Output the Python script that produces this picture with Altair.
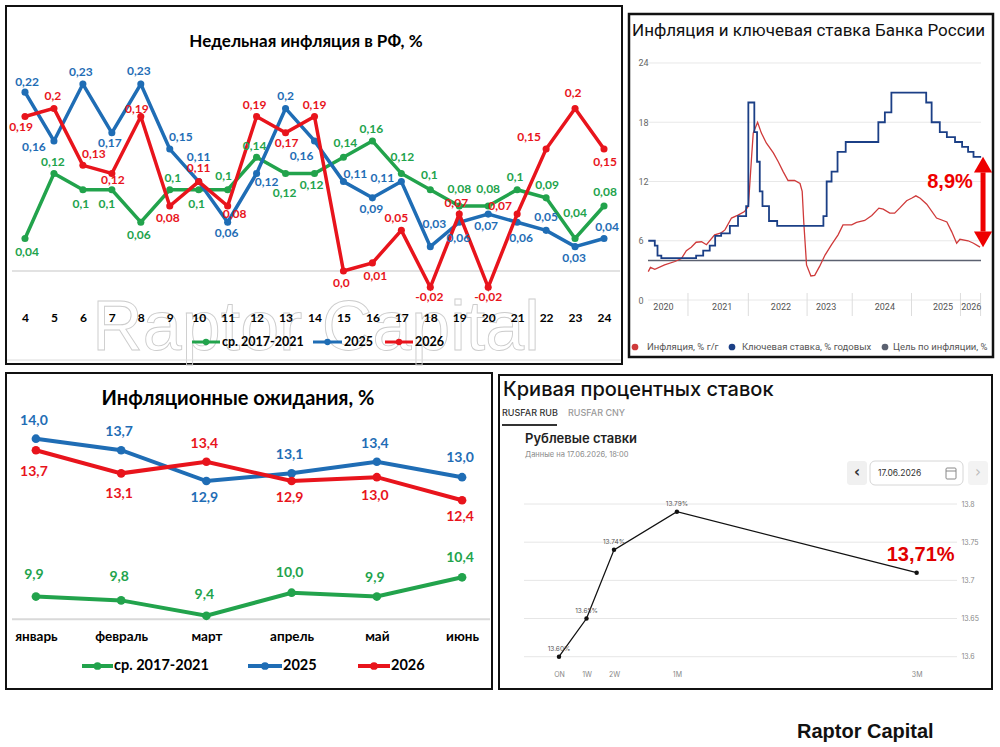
import altair as alt
import pandas as pd

# ---------------- data ----------------
SERIES = ["ср. 2017-2021", "2025", "2026"]

# weekly inflation, weeks 4..24
WEEKS = list(range(4, 25))
WEEK_AVG = [0.04, 0.12, 0.10, 0.10, 0.06, 0.10, 0.10, 0.10, 0.14, 0.12, 0.12,
            0.14, 0.16, 0.12, 0.10, 0.08, 0.08, 0.10, 0.09, 0.04, 0.08]
WEEK_2025 = [0.22, 0.16, 0.23, 0.17, 0.23, 0.15, 0.11, 0.06, 0.12, 0.20, 0.16,
             0.11, 0.09, 0.11, 0.03, 0.06, 0.07, 0.06, 0.05, 0.03, 0.04]
WEEK_2026 = [0.19, 0.20, 0.13, 0.12, 0.19, 0.08, 0.11, 0.08, 0.19, 0.17, 0.19,
             0.00, 0.01, 0.05, -0.02, 0.07, -0.02, 0.07, 0.15, 0.20, 0.15]
# label placement (dx, dy) in pixels
WEEK_AVG_LBL = [(2, 14), (-1, -11), (-2, 14), (-5, 14), (-2, 13), (3, -12), (-2, 14),
                (-4, -14), (-2, -11), (-1, 20), (-3, 12), (2, -14), (-1, -12), (1, -16),
                (-1, -15), (0, -17), (0, -17), (-2, -13), (1, -13), (0, -25), (1, -14)]
WEEK_2025_LBL = [(2, -10), (-20, 6), (-2, -12), (-2, 10), (-2, -13), (11, -12), (0, -25),
                 (-1, 11), (10, 9), (0, -12), (-13, 15), (12, -8), (-1, 11), (-19, -4),
                 (4, -23), (-1, 16), (-2, 12), (4, 16), (0, -13), (-1, 11), (3, -11)]
WEEK_2026_LBL = [(-4, 10), (-1, -12), (11, -11), (1, 7), (-4, -8), (-2, 12), (0, -14),
                 (7, 8), (-2, -12), (1, 10), (0, -12), (-2, 12), (3, 13), (-5, -12),
                 (-1, 10), (-3, -11), (0, 10), (-17, -8), (-17, -12), (-2, -15), (1, 13)]

# inflation expectations
MONTHS = ["январь", "февраль", "март", "апрель", "май", "июнь"]
EXP_AVG = [9.9, 9.8, 9.4, 10.0, 9.9, 10.4]
EXP_2025 = [14.0, 13.7, 12.9, 13.1, 13.4, 13.0]
EXP_2026 = [13.7, 13.1, 13.4, 12.9, 13.0, 12.4]
EXP_AVG_LBL = [-22, -23, -21, -20, -19, -19]
EXP_2025_LBL = [-18, -18, 17, -18, -18, -19]
EXP_2026_LBL = [22, 21, -18, 17, 19, 17]

# inflation and key rate (decimal years)
INFL_T = [2020.33, 2020.37, 2020.45, 2020.63, 2020.82, 2020.94, 2021.03, 2021.12, 2021.21,
          2021.31, 2021.40, 2021.55, 2021.67, 2021.74, 2021.86, 2021.98, 2022.10, 2022.17,
          2022.23, 2022.26, 2022.34, 2022.41, 2022.50, 2022.63, 2022.72, 2022.81, 2022.90,
          2023.02, 2023.12, 2023.16, 2023.19, 2023.24, 2023.32, 2023.39, 2023.48, 2023.58,
          2023.70, 2023.82, 2023.91, 2024.07, 2024.16, 2024.31, 2024.44, 2024.57, 2024.65,
          2024.77, 2024.86, 2024.96, 2025.08, 2025.17, 2025.25, 2025.33, 2025.45, 2025.63,
          2025.82, 2025.91, 2026.00, 2026.06, 2026.21, 2026.31, 2026.43]
INFL_V = [2.87, 3.3, 3.1, 3.55, 3.9, 4.2, 5.0, 5.35, 5.85, 5.9, 5.6, 6.6, 6.8, 7.1, 8.3, 8.6,
          8.95, 9.5, 14.5, 16.9, 18.0, 16.9, 15.9, 14.9, 14.0, 13.0, 12.1, 12.1, 11.8, 11.0,
          7.8, 3.55, 2.43, 2.5, 3.4, 4.55, 5.6, 6.6, 7.6, 7.6, 7.85, 8.05, 8.55, 9.3, 9.2,
          8.8, 8.8, 9.35, 10.05, 10.3, 10.55, 10.3, 9.7, 8.3, 7.9, 6.9, 5.75, 6.15, 6.0,
          5.75, 5.35]
KEY_T = [2020.33, 2020.45, 2020.50, 2020.57, 2021.21, 2021.34, 2021.46, 2021.56, 2021.67,
         2021.83, 2021.98, 2022.13, 2022.17, 2022.28, 2022.33, 2022.38, 2022.43, 2022.55,
         2022.70, 2023.55, 2023.61, 2023.70, 2023.81, 2023.96, 2024.56, 2024.68, 2024.80,
         2025.44, 2025.54, 2025.69, 2025.82, 2025.97, 2026.10, 2026.21, 2026.31, 2026.45]
KEY_V = [6.0, 5.5, 4.5, 4.25, 4.5, 5.0, 5.5, 6.5, 6.75, 7.5, 8.5, 9.5, 20.0, 17.0, 14.0, 11.0,
         9.5, 8.0, 7.5, 8.5, 12.0, 13.0, 15.0, 16.0, 18.0, 19.0, 21.0, 20.0, 18.0, 17.0, 16.5,
         16.0, 15.5, 15.0, 14.5, 14.5]
TARGET = [4.0]
RATE_TICKS = [0, 6, 12, 18, 24]
YEAR_TICKS = [2020.60, 2021.68, 2022.76, 2023.59, 2024.67, 2025.74, 2026.26]
YEAR_SEPS = [2021.06, 2022.17, 2023.25, 2024.08, 2025.17, 2026.07, 2026.44]
GAP_TEXT = "8,9%"
B_LEGEND = ["Инфляция, % г/г", "Ключевая ставка, % годовых", "Цель по инфляции, %"]

# RUSFAR curve
TENORS = ["ON", "1W", "2W", "1M", "3M"]
TENOR_DAYS = [0, 7, 14, 30, 91]
RUSFAR = [13.60, 13.65, 13.74, 13.79, 13.71]
CURVE_TICKS = [13.6, 13.65, 13.7, 13.75, 13.8]

GREEN, BLUE, RED = "#22A34C", "#1F6DB5", "#E8141C"
XL = "Lato"

one = pd.DataFrame({"k": [0]})


def txt(s, x, y, size, color="#000", weight="normal", align="left", font=XL,
        baseline="middle", **kw):
    return alt.Chart(pd.DataFrame({"t": [s]})).mark_text(
        align=align, baseline=baseline, fontSize=size, fontWeight=weight,
        color=color, font=font, **kw).encode(x=alt.value(x), y=alt.value(y), text="t:N")


def rect(x1, y1, x2, y2, fill="white", stroke=None, sw=1, radius=0):
    kw = dict(fill=fill, cornerRadius=radius)
    if stroke:
        kw.update(stroke=stroke, strokeWidth=sw)
    return alt.Chart(one).mark_rect(**kw).encode(
        x=alt.value(x1), x2=alt.value(x2), y=alt.value(y1), y2=alt.value(y2))


def hline(x1, x2, y, color, sw):
    return alt.Chart(one).mark_rule(color=color, strokeWidth=sw).encode(
        x=alt.value(x1), x2=alt.value(x2), y=alt.value(y))


def dot(x, y, color, size):
    return alt.Chart(one).mark_circle(color=color, size=size, opacity=1).encode(
        x=alt.value(x), y=alt.value(y))


def legend_item(x1, x2, y, color, sw, dsize, label, tx, fsize):
    return [hline(x1, x2, y, color, sw), dot((x1 + x2) / 2, y, color, dsize),
            txt(label, tx, y, fsize, "#000", "bold")]


def fmt_week(v):
    s = f"{v:.2f}"
    if s.endswith("0"):
        s = s[:-1]
    return s.replace(".", ",")


# ---------------- panel A: weekly inflation ----------------
AW, AH = 618, 360
A_XDOM = [3.309, 24.656]
A_YDOM = [-0.1156, 0.3272]
A_PXX = AW / (A_XDOM[1] - A_XDOM[0])
A_PXY = AH / (A_YDOM[1] - A_YDOM[0])
xa = alt.Scale(domain=A_XDOM, nice=False, zero=False)
ya = alt.Scale(domain=A_YDOM, nice=False, zero=False)
a_axis = alt.Axis(values=WEEKS, orient="bottom", offset=-53, domain=False, ticks=False,
                  tickSize=0, grid=False, labelPadding=0, labelFont=XL, labelFontSize=12,
                  labelFontWeight="bold", labelColor="#000", labelOverlap=False,
                  title=None, format="d", zindex=1)


def XA(f):
    return alt.X(f, scale=xa, axis=a_axis)


def YA(f):
    return alt.Y(f, scale=ya, axis=None)


a_layers = [
    rect(1, 1, AW - 1, AH - 1, fill="white", stroke="#111", sw=2),
    txt("Raptor Capital", 311, 345, 70, font="Liberation Sans", baseline="alphabetic",
        align="center", fillOpacity=0, stroke="#cccccc", strokeWidth=0.9),
    hline(2, AW - 2, 355, "#dddddd", 1),
    alt.Chart(pd.DataFrame({"v": [0.0]})).mark_rule(color="#d9d9d9", strokeWidth=1.5).encode(
        y=YA("v:Q"), x=alt.value(7), x2=alt.value(615)),
]
a_labels = []
for i, (vals, offs, col) in enumerate(zip([WEEK_AVG, WEEK_2025, WEEK_2026],
                                          [WEEK_AVG_LBL, WEEK_2025_LBL, WEEK_2026_LBL],
                                          [GREEN, BLUE, RED])):
    df = pd.DataFrame({"week": WEEKS, "v": vals})
    df["lx"] = df["week"] + [o[0] / A_PXX for o in offs]
    df["ly"] = df["v"] - pd.Series([o[1] / A_PXY for o in offs])
    df["lab"] = [fmt_week(v) for v in vals]
    a_layers.append(alt.Chart(df).mark_line(color=col, strokeWidth=3.5).encode(
        x=XA("week:Q"), y=YA("v:Q")))
    a_layers.append(alt.Chart(df).mark_circle(color=col, size=50, opacity=1).encode(
        x=XA("week:Q"), y=YA("v:Q")))
    a_labels.append(alt.Chart(df).mark_text(color=col, font=XL, fontWeight="bold",
                                            fontSize=12, baseline="middle").encode(
        x=XA("lx:Q"), y=YA("ly:Q"), text="lab:N"))
a_layers += a_labels
a_layers.append(txt("Недельная инфляция в РФ, %", 301, 37, 17, "#000", "bold", "center"))
a_layers += legend_item(187, 215, 337, GREEN, 3, 40, SERIES[0], 217, 12.5)
a_layers += legend_item(308, 337, 337, BLUE, 3, 40, SERIES[1], 339, 12.5)
a_layers += legend_item(380, 408, 337, RED, 3, 40, SERIES[2], 410, 12.5)
panel_a = alt.layer(*a_layers).properties(width=AW, height=AH)

# ---------------- panel B: inflation & key rate ----------------
BW, BH = 368, 360
RB = "Roboto"
B_XDOM = [2019.939, 2026.705]
B_YDOM = [-6.58, 29.87]
xb = alt.Scale(domain=B_XDOM, nice=False, zero=False)
yb = alt.Scale(domain=B_YDOM, nice=False, zero=False)
B_PXY = BH / (B_YDOM[1] - B_YDOM[0])
C_INFL, C_KEY, C_TGT = "#CF3A3A", "#1B3F86", "#5B6170"
b_yaxis = alt.Axis(orient="left", values=RATE_TICKS, offset=-11, labelAlign="left",
                   labelPadding=0, tickSize=0, ticks=False, domain=False, grid=False,
                   labelFontSize=9, labelColor="#666", labelFont=RB, title=None, format="d",
                   zindex=1)
b_xaxis = alt.Axis(orient="bottom", values=YEAR_TICKS, labelExpr="'' + floor(datum.value)",
                   offset=-63, tickSize=0, ticks=False, domain=False, grid=False,
                   labelPadding=0, labelFontSize=9, labelColor="#555", labelFont=RB,
                   title=None, labelOverlap=False, zindex=1)


def XB(f):
    return alt.X(f, scale=xb, axis=b_xaxis)


def YB(f):
    return alt.Y(f, scale=yb, axis=b_yaxis)


df_grid = pd.DataFrame({"v": RATE_TICKS})
df_infl = pd.DataFrame({"t": INFL_T, "v": INFL_V})
df_key = pd.DataFrame({"t": KEY_T, "v": KEY_V})
df_sep = pd.DataFrame({"t": YEAR_SEPS})
arrow_t = KEY_T[-1] + 0.035
arr_top, arr_bot = KEY_V[-1], INFL_V[-1]
head = 7.8 / B_PXY
df_shaft = pd.DataFrame({"t": [arrow_t], "v1": [arr_top - 2 * head], "v2": [arr_bot + 2 * head]})
df_hup = pd.DataFrame({"t": [arrow_t], "v": [arr_top - head]})
df_hdn = pd.DataFrame({"t": [arrow_t], "v": [arr_bot + head]})

b_layers = [
    rect(2, 9, 366, 352, fill="white", stroke="#111", sw=2.5),
    txt("Инфляция и ключевая ставка Банка России", 5, 26, 17, "#111", font=RB),
    alt.Chart(df_grid).mark_rule(color="#e8e8e8", strokeWidth=1).encode(
        y=YB("v:Q"), x=alt.value(21), x2=alt.value(354)),
    alt.Chart(df_sep).mark_rule(color="#dddddd", strokeWidth=1).encode(
        x=XB("t:Q"), y=alt.value(288), y2=alt.value(311)),
    alt.Chart(pd.DataFrame({"v": TARGET})).mark_rule(color=C_TGT, strokeWidth=1.5).encode(
        y=YB("v:Q"), x=alt.value(21), x2=alt.value(354)),
    alt.Chart(df_infl).mark_line(color=C_INFL, strokeWidth=1.3).encode(
        x=XB("t:Q"), y=YB("v:Q")),
    alt.Chart(df_key).mark_line(color=C_KEY, strokeWidth=1.8, interpolate="step-after").encode(
        x=XB("t:Q"), y=YB("v:Q")),
    alt.Chart(df_shaft).mark_rule(color="#EE0000", strokeWidth=5).encode(
        x=XB("t:Q"), y=YB("v1:Q"), y2="v2:Q"),
    alt.Chart(df_hup).mark_point(shape="triangle-up", filled=True, size=330, color="#EE0000",
                                 opacity=1).encode(x=XB("t:Q"), y=YB("v:Q")),
    alt.Chart(df_hdn).mark_point(shape="triangle-down", filled=True, size=330, color="#EE0000",
                                 opacity=1).encode(x=XB("t:Q"), y=YB("v:Q")),
    txt(GAP_TEXT, 323, 177, 20, "#EE0000", "bold", "center", font="Liberation Sans"),
    dot(8, 342, C_INFL, 45), txt(B_LEGEND[0], 20, 342, 9.5, "#555", font=RB),
    dot(105, 342, C_KEY, 45), txt(B_LEGEND[1], 115, 342, 9.5, "#555", font=RB),
    dot(258, 342, C_TGT, 45), txt(B_LEGEND[2], 266, 342, 9.5, "#555", font=RB),
]
panel_b = alt.layer(*b_layers).properties(width=BW, height=BH)

# ---------------- panel C: inflation expectations ----------------
CW, CH = 488, 318
C_YDOM = [7.473, 15.732]
C_PXY = CH / (C_YDOM[1] - C_YDOM[0])
xc = alt.Scale(type="point", domain=MONTHS, padding=0.363)
yc = alt.Scale(domain=C_YDOM, nice=False, zero=False)
c_axis = alt.Axis(orient="bottom", offset=-61, domain=False, ticks=False, tickSize=0,
                  grid=False, labelPadding=0, labelFont=XL, labelFontSize=13.5,
                  labelFontWeight="bold", labelColor="#000", labelAngle=0, title=None,
                  zindex=1)


def XC(f):
    return alt.X(f, scale=xc, sort=None, axis=c_axis)


def YC(f):
    return alt.Y(f, scale=yc, axis=None)


c_layers = [
    rect(1, 1, CW - 1, CH - 1, fill="white", stroke="#111", sw=2),
    alt.Chart(pd.DataFrame({"v": [min(EXP_AVG) - 0.09]})).mark_rule(
        color="#d9d9d9", strokeWidth=2).encode(
        y=YC("v:Q"), x=alt.value(7), x2=alt.value(485)),
]
c_labels = []
for i, (vals, offs, col) in enumerate(zip([EXP_AVG, EXP_2025, EXP_2026],
                                          [EXP_AVG_LBL, EXP_2025_LBL, EXP_2026_LBL],
                                          [GREEN, BLUE, RED])):
    df = pd.DataFrame({"m": MONTHS, "v": vals})
    df["ly"] = df["v"] - pd.Series([o / C_PXY for o in offs])
    df["lab"] = [f"{v:.1f}".replace(".", ",") for v in vals]
    c_layers.append(alt.Chart(df).mark_line(color=col, strokeWidth=4).encode(
        x=XC("m:N"), y=YC("v:Q")))
    c_layers.append(alt.Chart(df).mark_circle(color=col, size=75, opacity=1).encode(
        x=XC("m:N"), y=YC("v:Q")))
    c_labels.append(alt.Chart(df).mark_text(color=col, font=XL, fontWeight="bold",
                                            fontSize=14, dx=-2, baseline="middle").encode(
        x=XC("m:N"), y=YC("ly:Q"), text="lab:N"))
c_layers += c_labels
c_layers.append(txt("Инфляционные ожидания, %", 233, 27, 20, "#000", "bold", "center"))
c_layers += legend_item(77, 108, 294, GREEN, 4, 60, SERIES[0], 109, 14.5)
c_layers += legend_item(243, 277, 294, BLUE, 4, 60, SERIES[1], 278, 14.5)
c_layers += legend_item(353, 385, 294, RED, 4, 60, SERIES[2], 386, 14.5)
panel_c = alt.layer(*c_layers).properties(width=CW, height=CH)

# ---------------- panel D: RUSFAR curve ----------------
DW, DH = 495, 318
IN = "Inter"
D_XDOM = [-15.52, 110.43]
D_YDOM = [13.5564, 13.9729]
D_PXX = DW / (D_XDOM[1] - D_XDOM[0])
D_PXY = DH / (D_YDOM[1] - D_YDOM[0])
xd = alt.Scale(domain=D_XDOM, nice=False, zero=False)
yd = alt.Scale(domain=D_YDOM, nice=False, zero=False)
tenor_expr = " : ".join(f"datum.value == {d} ? '{t}'" for d, t in zip(TENOR_DAYS, TENORS)) + " : ''"
d_yaxis = alt.Axis(orient="right", values=CURVE_TICKS, offset=-32, labelAlign="left",
                   labelPadding=0, tickSize=0, ticks=False, domain=False, grid=False,
                   labelFontSize=7, labelColor="#888", labelFont=IN, title=None,
                   format=".2~f", zindex=1)
d_xaxis = alt.Axis(orient="bottom", values=TENOR_DAYS, labelExpr=tenor_expr, offset=-20,
                   tickSize=0, ticks=False, domain=False, grid=False, labelPadding=0,
                   labelFontSize=7, labelColor="#888", labelFont=IN, title=None,
                   labelOverlap=False, zindex=1)


def XD(f):
    return alt.X(f, scale=xd, axis=d_xaxis)


def YD(f):
    return alt.Y(f, scale=yd, axis=d_yaxis)


df_curve = pd.DataFrame({"d": TENOR_DAYS, "v": RUSFAR})
df_curve["ly"] = df_curve["v"] + 8 / D_PXY
df_curve["lab"] = [f"{v:.2f}%" for v in RUSFAR]
df_last = pd.DataFrame({"d": [TENOR_DAYS[-1] + 4 / D_PXX], "v": [RUSFAR[-1] + 18 / D_PXY],
                        "lab": [f"{RUSFAR[-1]:.2f}%".replace(".", ",")]})

d_layers = [
    rect(1, 3, DW - 1, DH - 1, fill="white", stroke="#111", sw=2),
    txt("Кривая процентных ставок", 5, 18, 20, "#111", 500, font=IN),
    txt("RUSFAR RUB", 4, 41, 9, "#333", 500, font=IN),
    txt("RUSFAR CNY", 70, 41, 9, "#9a9a9a", 500, font=IN),
    hline(4, 59, 53, "#333", 2),
    txt("Рублевые ставки", 27, 67, 13, "#222", 600, font=IN),
    txt("Данные на 17.06.2026, 18:00", 27, 83, 7.5, "#8a8a8a", font=IN),
    rect(349, 89, 369, 113, fill="#f0f0f0", radius=3),
    txt("‹", 359, 100, 15, "#333", "bold", "center", font="DejaVu Sans"),
    rect(372, 89, 465, 113, fill="white", stroke="#d6d6d6", sw=1, radius=5),
    txt("17.06.2026", 380, 101, 8.5, "#333", font=IN),
    rect(448, 96, 458, 107, fill="transparent", stroke="#888", sw=1, radius=1),
    hline(448, 458, 99, "#888", 1),
    rect(470, 89, 490, 113, fill="#f3f3f3", radius=3),
    txt("›", 480, 100, 15, "#bbbbbb", "normal", "center", font="DejaVu Sans"),
    alt.Chart(pd.DataFrame({"v": CURVE_TICKS})).mark_rule(color="#e6e6e6", strokeWidth=1).encode(
        y=YD("v:Q"), x=alt.value(26), x2=alt.value(459)),
    alt.Chart(df_curve).mark_line(color="#111", strokeWidth=1.3).encode(
        x=XD("d:Q"), y=YD("v:Q")),
    alt.Chart(df_curve).mark_circle(color="#111", size=20, opacity=1).encode(
        x=XD("d:Q"), y=YD("v:Q")),
    alt.Chart(df_curve.iloc[:-1]).mark_text(color="#555", font=IN, fontSize=6.5,
                                            baseline="middle").encode(
        x=XD("d:Q"), y=YD("ly:Q"), text="lab:N"),
    alt.Chart(df_last).mark_text(color="#E00000", font="Liberation Sans", fontSize=20,
                                 fontWeight="bold", baseline="middle").encode(
        x=XD("d:Q"), y=YD("v:Q"), text="lab:N"),
    txt("Raptor Capital", 299, 360, 20, "#111", "bold", font="Liberation Sans"),
]
panel_d = alt.layer(*d_layers).properties(width=DW, height=DH)

top = alt.hconcat(panel_a, panel_b, spacing=4, bounds="flush")
bottom = alt.hconcat(panel_c, panel_d, spacing=5, bounds="flush")
chart = alt.vconcat(top, bottom, spacing=7).properties(
    padding={"left": 5, "top": 5, "right": 0, "bottom": 0}
).configure_view(stroke=None)

chart.save("out.html", embed_options={"renderer": "svg", "actions": False})
